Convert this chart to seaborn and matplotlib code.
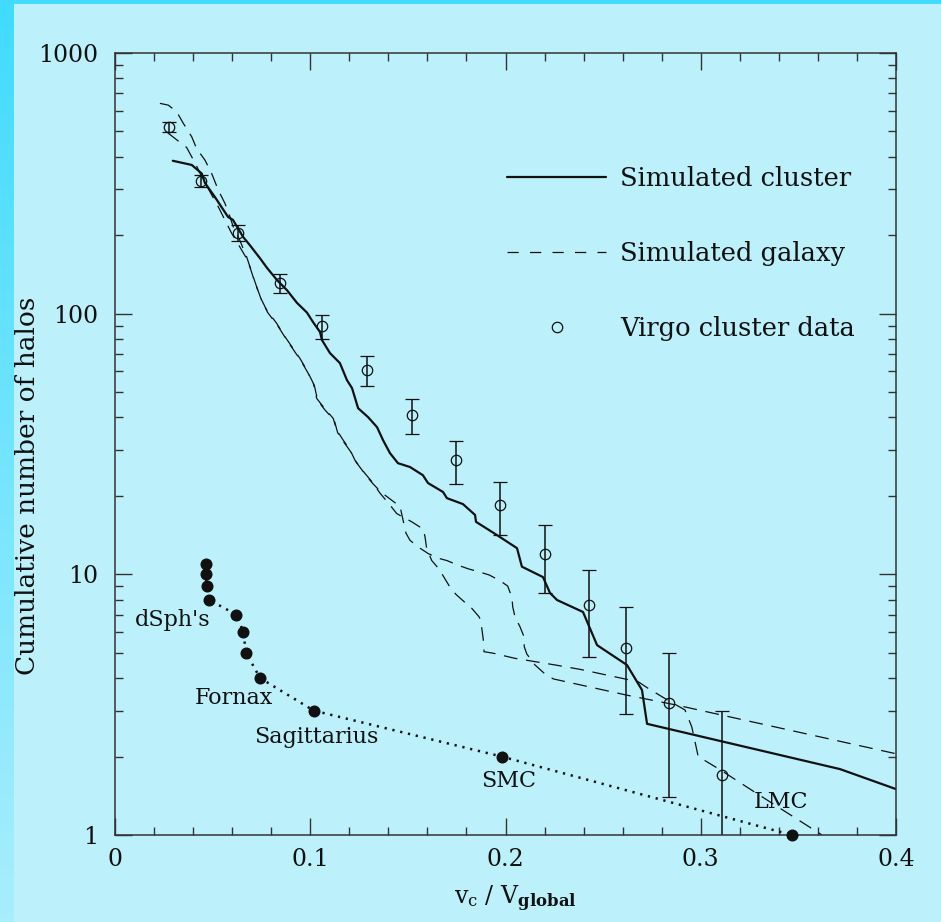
import numpy as np
import pandas as pd
import matplotlib
matplotlib.use("Agg")
import matplotlib.pyplot as plt
import seaborn as sns
from matplotlib.lines import Line2D
from matplotlib.patches import Rectangle
from matplotlib.colors import LinearSegmentedColormap
from matplotlib.ticker import FixedLocator, MultipleLocator, LogLocator, NullFormatter, FuncFormatter

# ---- Virgo cluster galaxies (cumulative counts with Poisson errors)
virgo_v = [0.0277, 0.0440, 0.0630, 0.0845, 0.1060, 0.1290, 0.1520, 0.1747,
           0.1970, 0.2200, 0.2428, 0.2617, 0.2837, 0.3110]
virgo_n = [520, 323, 204, 131, 89.6, 60.8, 40.8, 27.4, 18.4, 12.0, 7.6, 5.2, 3.2, 1.7]
virgo_err = [24, 18, 14.3, 11.4, 9.5, 7.8, 6.4, 5.2, 4.3, 3.5, 2.8, 2.3, 1.8, 1.3]

# ---- Simulated cluster substructure
cluster_v = [0.0296, 0.0393, 0.0444, 0.0461, 0.0512, 0.0579, 0.0604, 0.0656, 0.0691,
             0.0743, 0.0778, 0.0830, 0.0881, 0.0932, 0.0983, 0.1014, 0.1050, 0.1060,
             0.1101, 0.1152, 0.1188, 0.1214, 0.1245, 0.1296, 0.1342, 0.1373, 0.1408,
             0.1449, 0.1511, 0.1577, 0.1603, 0.1680, 0.1700, 0.1782, 0.1844, 0.1849,
             0.1956, 0.2059, 0.2084, 0.2192, 0.2228, 0.2264, 0.2397, 0.2469, 0.2622,
             0.2699, 0.2725, 0.3713, 0.4000]
cluster_n = [386, 372, 345, 317, 280, 235, 229, 197, 183,
             163, 150, 134.5, 123, 110, 101, 92.9, 85, 79.2,
             70.6, 64.6, 55.6, 51.8, 43.4, 40.1, 36.7, 32.7, 29.2,
             26.7, 25.8, 24.0, 22.4, 20.7, 19.6, 18.6, 16.9, 15.9,
             14.15, 12.6, 10.7, 9.76, 8.48, 7.97, 7.17, 5.35, 4.49,
             3.60, 2.67, 1.79, 1.50]

# ---- Simulated galaxy halo A
galA_v = [0.0230, 0.0273, 0.0316, 0.0350, 0.0393, 0.0418, 0.0461, 0.0495, 0.0529,
          0.0563, 0.0589, 0.0606, 0.0640, 0.0675, 0.0708, 0.0743, 0.0777, 0.0828,
          0.0871, 0.0947, 0.0982, 0.1016, 0.1033, 0.1067, 0.1118, 0.1135, 0.1169,
          0.1204, 0.1229, 0.1280, 0.1315, 0.1357, 0.1408, 0.1443, 0.1520, 0.1579,
          0.1588, 0.1596, 0.1622, 0.1661, 0.1678, 0.1716, 0.1746, 0.1794, 0.1827,
          0.1864, 0.1873, 0.1886, 0.1890, 0.1938, 0.2049, 0.2155, 0.2262, 0.2382,
          0.2680, 0.2731, 0.2843, 0.2919, 0.2954, 0.2987, 0.3099, 0.3286, 0.3594,
          0.3621]
galA_n = [641, 631, 595, 537, 477, 430, 388, 345, 298,
          265, 235, 215, 190.7, 164.6, 138.5, 116, 103.2, 91.8,
          81.5, 67.4, 60.8, 54.0, 47.3, 43.9, 39.6, 35.8, 32.7,
          30.0, 27.4, 24.4, 22.7, 20.5, 18.45, 17.1, 15.9, 14.9,
          13.9, 12.6, 11.3, 10.45, 9.94, 8.92, 8.38, 7.78, 7.41,
          6.88, 6.68, 5.63, 5.05, 4.98, 4.76, 4.62, 4.48, 4.32,
          3.87, 3.65, 3.25, 3.02, 2.60, 2.00, 1.78, 1.445, 1.03,
          1.0]

# ---- Simulated galaxy halo B
galB_v = [0.0270, 0.0367, 0.0413, 0.0444, 0.0529, 0.0598, 0.0640, 0.0680, 0.0712,
          0.0748, 0.0782, 0.0833, 0.0876, 0.0952, 0.0987, 0.1021, 0.1038, 0.1072,
          0.1123, 0.1140, 0.1174, 0.1209, 0.1234, 0.1285, 0.1320, 0.1365, 0.1460,
          0.1490, 0.1511, 0.1562, 0.1605, 0.1661, 0.1699, 0.1763, 0.1809, 0.1869,
          0.1917, 0.1972, 0.2011, 0.2033, 0.2037, 0.2049, 0.2074, 0.2095, 0.2096,
          0.2109, 0.2151, 0.2202, 0.2245, 0.2621, 0.2877, 0.4000]
galB_n = [494, 434, 375, 335, 257, 203, 180, 160, 135,
          114, 101, 90, 80, 66, 59.5, 53, 46.5, 43,
          39, 35, 32, 29.4, 27, 24, 22.3, 20.6, 18.2,
          14.4, 13.5, 12.6, 12.0, 11.5, 11.3, 10.8, 10.5, 10.2,
          9.94, 9.45, 9.02, 8.16, 7.51, 6.84, 6.30, 5.76, 5.28,
          4.95, 4.49, 4.15, 3.97, 3.44, 3.15, 2.05]

# ---- Milky Way satellites
sat_v = [0.0464, 0.0464, 0.0471, 0.0480, 0.0622, 0.0657, 0.0671, 0.0743, 0.1018, 0.1980, 0.3466]
sat_n = [11, 10, 9, 8, 7, 6, 5, 4, 3, 2, 1]

sat_names = ["dSph's", "Fornax", "Sagittarius", "SMC", "LMC"]
sat_name_v = [0.0297, 0.0607, 0.1030, 0.2015, 0.3411]
sat_name_n = [6.68, 3.35, 2.376, 1.61, 1.339]

x_ticks = [0, 0.1, 0.2, 0.3, 0.4]
y_ticks = [1, 10, 100, 1000]

BG = "#bcf0fb"
INK = "#111111"
AXC = "#333333"

sns.set_theme(style="ticks")
plt.rcParams["font.family"] = ["DejaVu Serif"]
plt.rcParams["mathtext.fontset"] = "dejavuserif"

fig = plt.figure(figsize=(9.41, 9.22), dpi=100)
fig.patch.set_facecolor(BG)

# bright edge strips of the slide
edge = fig.add_axes([0, 0, 14 / 941, 1])
edge.imshow(np.linspace(0, 1, 256).reshape(-1, 1), aspect="auto",
            cmap=LinearSegmentedColormap.from_list("edge", ["#40dbff", "#a8eefc"]))
edge.set_axis_off()
fig.add_artist(Rectangle((0, 1 - 4 / 922), 1, 4 / 922, transform=fig.transFigure,
                         color="#40dbff", lw=0))

ax = fig.add_axes([115 / 941, 87 / 922, 781 / 941, 782 / 922])
ax.set_facecolor(BG)
ax.set_yscale("log")
ax.set_xlim(0, 0.4)
ax.set_ylim(1, 1000)

cluster_df = pd.DataFrame({"v": cluster_v, "n": cluster_n})
galA_df = pd.DataFrame({"v": galA_v, "n": galA_n})
galB_df = pd.DataFrame({"v": galB_v, "n": galB_n})
sat_df = pd.DataFrame({"v": sat_v, "n": sat_n})

gal_dash = (0, (11, 7))
sns.lineplot(data=galA_df, x="v", y="n", ax=ax, sort=False, estimator=None,
             color=INK, lw=0.9, linestyle=gal_dash)
sns.lineplot(data=galB_df, x="v", y="n", ax=ax, sort=False, estimator=None,
             color=INK, lw=0.9, linestyle=gal_dash)
sns.lineplot(data=cluster_df, x="v", y="n", ax=ax, sort=False, estimator=None,
             color=INK, lw=1.6)

ax.errorbar(virgo_v, virgo_n, yerr=virgo_err, fmt="o", mfc="none", mec=INK,
            mew=0.9, ms=7.5, ecolor=INK, elinewidth=1.1, capsize=5, capthick=1.1)

sns.lineplot(data=sat_df, x="v", y="n", ax=ax, sort=False, estimator=None,
             color=INK, lw=1.8, linestyle=(0, (0.9, 2.3)))
sns.scatterplot(data=sat_df, x="v", y="n", ax=ax, color=INK, s=75,
                edgecolor=INK, linewidth=0, clip_on=False, zorder=5)

for name, xv, yv in zip(sat_names, sat_name_v, sat_name_n):
    ax.text(xv, yv, name, ha="center", va="center", fontsize=16, color=INK)

# axes styling
ax.xaxis.set_major_locator(FixedLocator(x_ticks))
ax.xaxis.set_minor_locator(MultipleLocator(0.02))
ax.xaxis.set_major_formatter(FuncFormatter(lambda v, _: "0" if abs(v) < 1e-9 else f"{v:.1f}"))
ax.yaxis.set_major_locator(FixedLocator(y_ticks))
ax.yaxis.set_minor_locator(LogLocator(base=10, subs=np.arange(2, 10)))
ax.yaxis.set_major_formatter(FuncFormatter(lambda v, _: f"{v:.0f}"))
ax.yaxis.set_minor_formatter(NullFormatter())
ax.tick_params(which="both", direction="in", top=True, right=True, color=AXC,
               width=1.0, labelsize=17, labelcolor=INK)
ax.tick_params(which="major", length=12)
ax.tick_params(which="minor", length=6)
ax.tick_params(axis="x", which="major", pad=9)
ax.tick_params(axis="y", which="major", pad=12)
for sp in ax.spines.values():
    sp.set_color(AXC)
    sp.set_linewidth(1.1)

ax.set_xlabel(r"$\mathrm{v_c\ /\ V_{\mathbf{global}}}$", fontsize=17, color=INK)
ax.set_ylabel("Cumulative number of halos", fontsize=19, color=INK)
ax.xaxis.set_label_coords(0.512, -0.062)
ax.yaxis.set_label_coords(-0.096, 0.446)

handles = [
    Line2D([], [], color=INK, lw=1.6),
    Line2D([], [], color=INK, lw=0.9, linestyle=(0, (9, 9))),
    Line2D([], [], ls="none", marker="o", mfc="none", mec=INK, mew=0.9, ms=7.5),
]
labels = ["Simulated cluster", "Simulated galaxy", "Virgo cluster data"]
ax.legend(handles, labels, loc="upper left", bbox_to_anchor=(0.502, 0.856),
          frameon=False, handlelength=3.85, handletextpad=0.55, labelspacing=1.95,
          fontsize=18.5, borderpad=0, borderaxespad=0, labelcolor=INK)

fig.savefig("out.png", dpi=100, facecolor=BG)
